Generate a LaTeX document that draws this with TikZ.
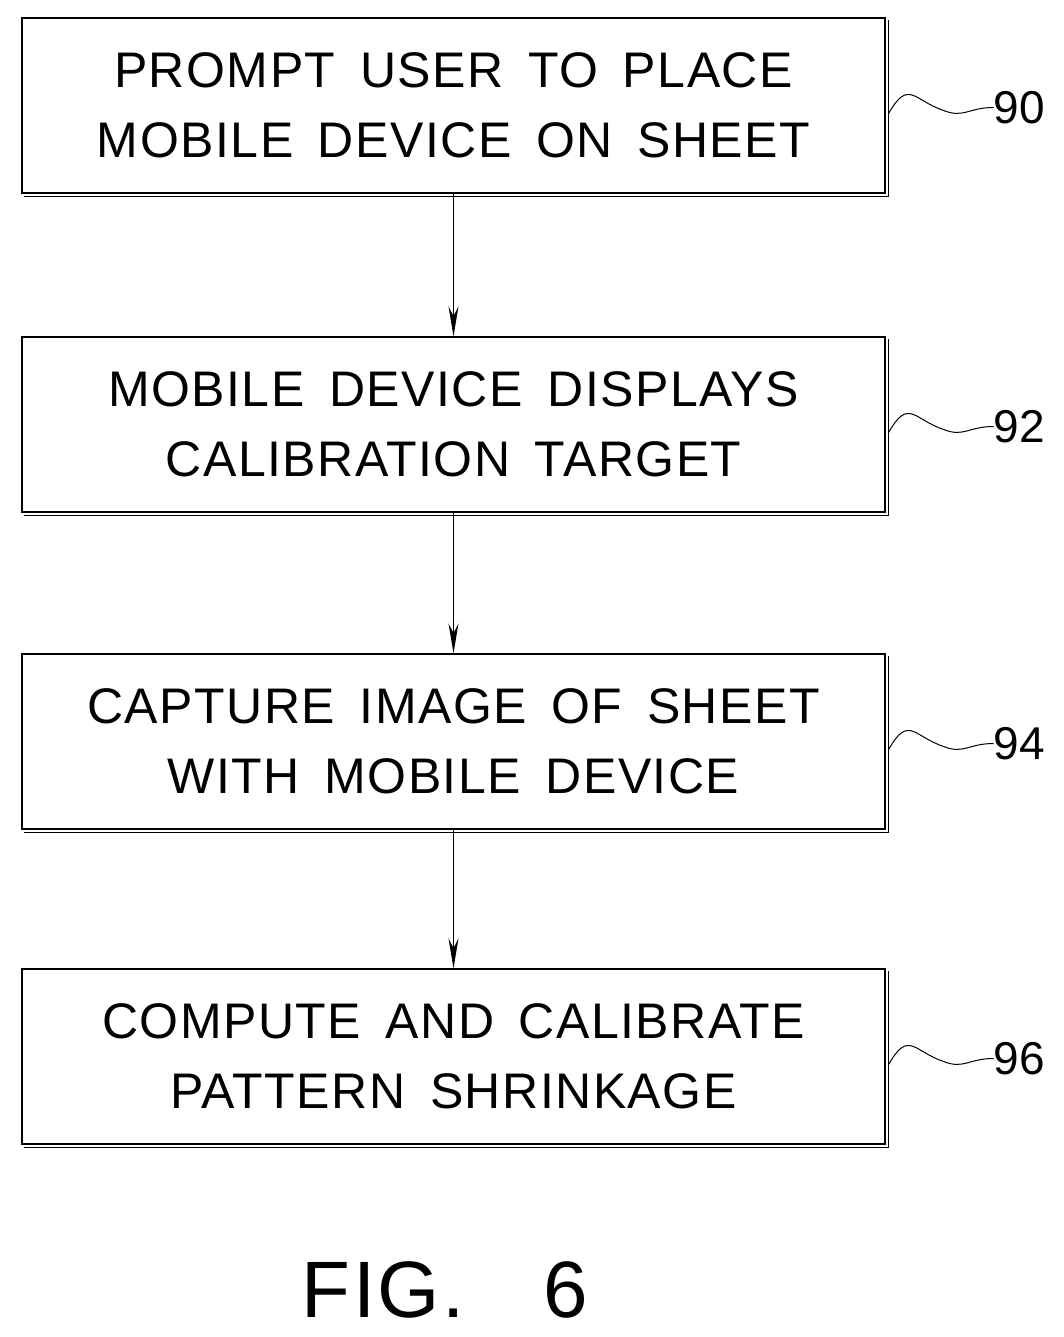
\documentclass[tikz,border=0pt]{standalone}
\usepackage{fontspec}
\setmainfont{Liberation Sans}[LetterSpace=3, WordSpace=1.6]
\usetikzlibrary{arrows.meta, positioning}

\begin{document}
\begin{tikzpicture}[x=1pt, y=-1pt,
  every node/.style={font=\fontsize{50}{70}\selectfont},
  stepbox/.style={rectangle, draw, line width=1.2pt, minimum width=863pt, minimum height=175pt, align=center, inner sep=0pt},
  flow/.style={-{Stealth[length=30pt, width=10pt]}, line width=1pt},
  refline/.style={line width=1pt},
]
\useasboundingbox (0,0) rectangle (1063,1337);

% Steps
\node[stepbox] (s90) at (453.5,105.5) {PROMPT USER TO PLACE\\MOBILE DEVICE ON SHEET};
\node[stepbox] (s92) at (453.5,424.5) {MOBILE DEVICE DISPLAYS\\CALIBRATION TARGET};
\node[stepbox] (s94) at (453.5,741.5) {CAPTURE IMAGE OF SHEET\\WITH MOBILE DEVICE};
\node[stepbox] (s96) at (453.5,1056.5) {COMPUTE AND CALIBRATE\\PATTERN SHRINKAGE};

% Shadow edges and reference numbers
\foreach \s/\n in {s90/90, s92/92, s94/94, s96/96} {
  \draw[line width=1pt] ([xshift=3pt, yshift=-3pt]\s.north east) -- ([xshift=3pt, yshift=-3pt]\s.south east) -- ([xshift=3pt, yshift=-3pt]\s.south west);
  \coordinate (w\n) at ([xshift=3pt, yshift=-8pt]\s.east);
  \node[anchor=west, inner sep=0pt, font=\fontsize{46}{50}\selectfont\addfontfeature{LetterSpace=0}] (l\n) at ([xshift=108pt, yshift=-2pt]\s.east) {\n};
  \draw[refline] (w\n) .. controls +(20,-35) and +(-30,-10) .. +(55,-3) .. controls +(20,8) and +(-25,0) .. (l\n.west);
}

% Connections
\draw[flow] (s90) -- (s92);
\draw[flow] (s92) -- (s94);
\draw[flow] (s94) -- (s96);

\node (fig) at (445,1290) {\fontsize{80}{86}\selectfont FIG.\ \ 6};
\end{tikzpicture}
\end{document}
